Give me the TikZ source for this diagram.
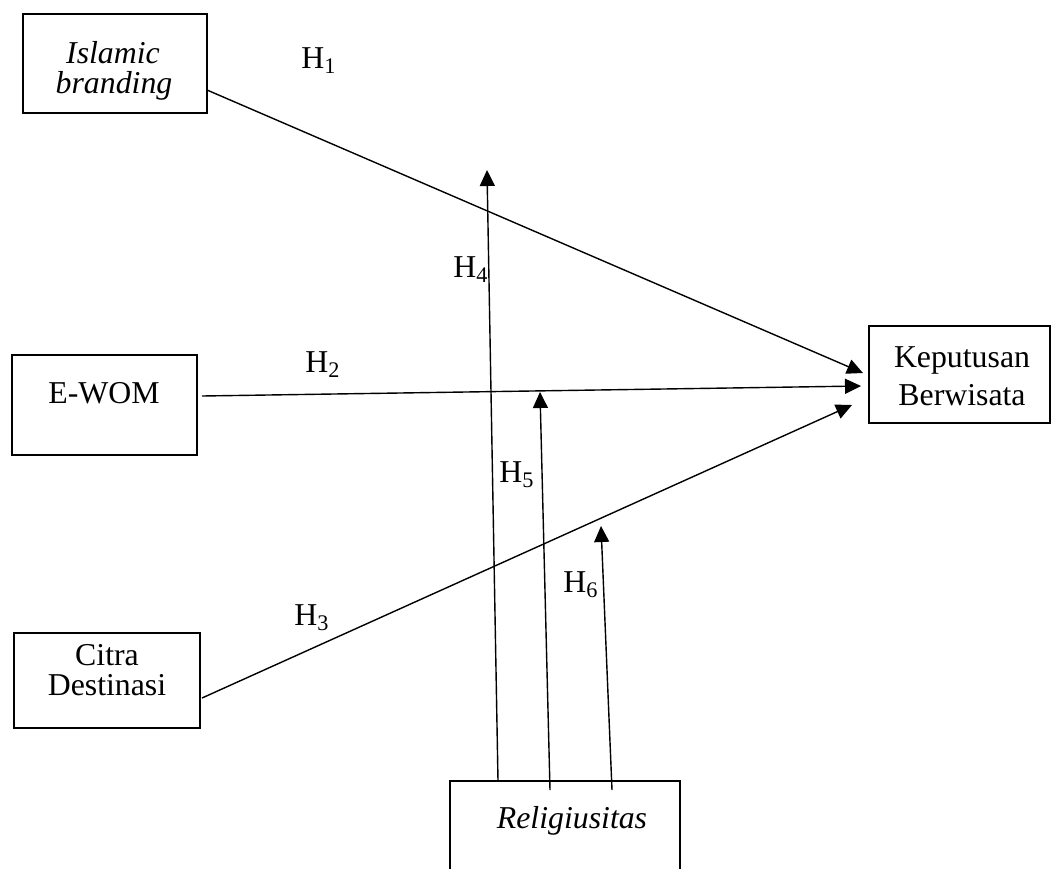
\documentclass[tikz,border=0pt]{standalone}
\usepackage{fontspec}
\setmainfont{Liberation Serif}
\usetikzlibrary{arrows.meta}
\tikzset{
  box/.style={draw, line width=1.4pt, inner sep=0pt},
  txt/.style={anchor=base, inner sep=0pt, font=\fontsize{15.9}{18}\selectfont},
  hyp/.style={anchor=base, inner sep=0pt, font=\fontsize{15.9}{18}\selectfont},
  link/.style={line width=0.7pt, -{Triangle[length=8pt,width=7.5pt]}},
  stem/.style={line width=0.7pt}
}
\begin{document}
\begin{tikzpicture}[x=0.5pt,y=-0.5pt]
\useasboundingbox (0,0) rectangle (1053,868);
\clip (0,0) rectangle (1053,868);
% boxes
\node[box, minimum width=92pt, minimum height=49.5pt] (ib) at (115,63.5) {};
\node[box, minimum width=92.5pt, minimum height=50pt] (ew) at (104.5,405) {};
\node[box, minimum width=93pt, minimum height=47.5pt] (cd) at (107,680.5) {};
\node[box, minimum width=90.5pt, minimum height=48.5pt] (kb) at (959.5,374.5) {};
\node[box, minimum width=115pt, minimum height=49.5pt] (rl) at (565,830.5) {};
% texts
\node[txt] (ib1) at (113,63) {\itshape Islamic};
\node[txt] (ib2) at (114,93) {\itshape branding};
\node[txt] (ew1) at (104,403) {E-WOM};
\node[txt] (cd1) at (107,665) {Citra};
\node[txt] (cd2) at (107,695) {Destinasi};
\node[txt] (kb1) at (962,367) {Keputusan};
\node[txt] (kb2) at (962,405) {Berwisata};
\node[txt] (rl1) at (572,828) {\itshape Religiusitas};
% hypothesis labels
\node[hyp] (h1) at (319,68) {H\textsubscript{1}};
\node[hyp] (h2) at (323,372) {H\textsubscript{2}};
\node[hyp] (h3) at (312,625) {H\textsubscript{3}};
\node[hyp] (h4) at (471,277) {H\textsubscript{4}};
\node[hyp] (h5) at (517,482) {H\textsubscript{5}};
\node[hyp] (h6) at (581,592) {H\textsubscript{6}};
% end points
\coordinate (a1) at (207,90);
\coordinate (b1) at (863,373);
\coordinate (a2) at (202,396);
\coordinate (b2) at (861,386);
\coordinate (a3) at (202,698);
\coordinate (b3) at (852,405);
\coordinate (m4a) at (498,781);
\coordinate (m4b) at (487,170);
\coordinate (m5a) at (550,790);
\coordinate (m5b) at (540,392);
\coordinate (m6a) at (612,790);
\coordinate (m6b) at (601,526);
% connectors
\draw[link] (a1) -- (b1);
\draw[link] (a2) -- (b2);
\draw[link] (a3) -- (b3);
\draw[link] (m4a) -- (m4b);
\draw[link] (m5a) -- (m5b);
\draw[link] (m6a) -- (m6b);
\end{tikzpicture}
\end{document}
